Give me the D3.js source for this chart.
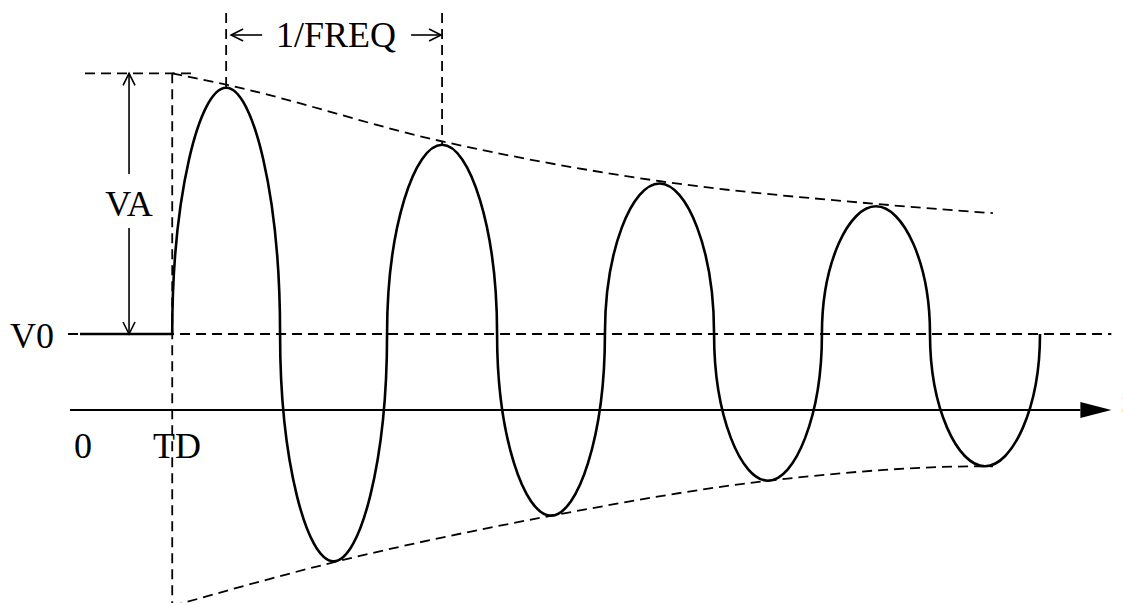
<!DOCTYPE html>
<html lang="en">
<head>
	<meta charset="utf-8">
	<title>SIN source waveform</title>
	<script src="https://cdn.jsdelivr.net/npm/d3@7/dist/d3.min.js"></script>
	<style type="text/css">
		body { margin: 0; background: white; }
		svg text {
			font-family: "Liberation Serif", "Times New Roman", serif;
			font-size: 36px;
			fill: black;
		}
		.dash {
			fill: none;
			stroke: black;
			stroke-width: 1.8;
			stroke-dasharray: 10,6;
		}
		.thin {
			fill: none;
			stroke: black;
			stroke-width: 1.6;
		}
	</style>
</head>
<body>
<script type="text/javascript">

// Source parameters (time in periods, 1/FREQ = 1; voltage in V0 units)
var TD = 0.425;
var V0 = 1;
var VA = 3.43;

// Zero crossings of the waveform (on the V0 line) and the extremum of each half cycle
var crossT = [0.425, 0.922, 1.415, 1.922, 2.419, 2.922, 3.419, 3.917, 4.424];
var extremaV = [4.24, -1.99, 3.49, -1.39, 2.98, -0.93, 2.68, -0.74];

// Dashed envelopes
var topEnvT = [0.425, 0.675, 1.675, 2.675, 3.675, 4.207];
var topEnvV = [4.43, 4.28, 3.53, 3.01, 2.71, 2.59];
var botEnvT = [0.425, 1.175, 2.175, 3.175, 4.175, 4.207];
var botEnvV = [-2.58, -2.0, -1.39, -0.93, -0.74, -0.74];

// Labels
var labelV0 = "V0", labelVA = "VA", labelZero = "0", labelTD = "TD", labelFreq = "1/FREQ", labelT = "t";

var width = 1123, height = 603;

var x = d3.scaleLinear().domain([0, 1]).range([80, 297]);
var y = d3.scaleLinear().domain([0, 1]).range([410, 334]);

var svg = d3.select("body")
		.append("svg")
		.attr("width", width)
		.attr("height", height);

// time axis with filled arrow
var axisEnd = x(4.61);
svg.append("line")
	.attr("x1", x(-0.046)).attr("x2", axisEnd)
	.attr("y1", y(0)).attr("y2", y(0))
	.attr("stroke", "black").attr("stroke-width", 1.8);
svg.append("path")
	.attr("d", "M" + axisEnd + "," + (y(0) - 8) + "L" + (axisEnd + 31) + "," + y(0) + "L" + axisEnd + "," + (y(0) + 8) + "Z")
	.attr("fill", "black");
svg.append("text")
	.attr("x", axisEnd + 41).attr("y", y(0) + 4)
	.attr("font-style", "italic")
	.text(labelT);

// V0 reference line
svg.append("line")
	.attr("class", "dash")
	.attr("x1", x(-0.055)).attr("x2", axisEnd + 31)
	.attr("y1", y(V0)).attr("y2", y(V0));

// TD marker
svg.append("line")
	.attr("class", "dash")
	.attr("x1", x(TD)).attr("x2", x(TD))
	.attr("y1", y(V0 + VA)).attr("y2", height);

// V0 + VA level
svg.append("line")
	.attr("class", "dash")
	.attr("x1", x(0.023)).attr("x2", x(0.516))
	.attr("y1", y(V0 + VA)).attr("y2", y(V0 + VA));

// envelopes
var envLine = d3.line()
	.x(function(d) { return x(d[0]); })
	.y(function(d) { return y(d[1]); })
	.curve(d3.curveMonotoneX);

svg.append("path")
	.attr("class", "dash")
	.attr("d", envLine(d3.zip(topEnvT, topEnvV)));
svg.append("path")
	.attr("class", "dash")
	.attr("d", envLine(d3.zip(botEnvT, botEnvV)));

// 1/FREQ markers at the first two peaks
var p1 = crossT[0] + (crossT[1] - crossT[0]) / 2;
var p2 = crossT[2] + (crossT[3] - crossT[2]) / 2;
svg.append("line").attr("class", "dash")
	.attr("x1", x(p1)).attr("x2", x(p1))
	.attr("y1", 13).attr("y2", y(extremaV[0]));
svg.append("line").attr("class", "dash")
	.attr("x1", x(p2)).attr("x2", x(p2))
	.attr("y1", 13).attr("y2", y(extremaV[2]));

function openHead(px, py, dx, dy) {
	// V shaped arrow head, tip at px,py pointing in direction dx,dy
	var len = 12, half = 6;
	var nx = -dy, ny = dx;
	return "M" + (px - dx * len + nx * half) + "," + (py - dy * len + ny * half) +
		"L" + px + "," + py +
		"L" + (px - dx * len - nx * half) + "," + (py - dy * len - ny * half);
}

var fy = 35;
svg.append("line").attr("class", "thin")
	.attr("x1", x(p1) + 5).attr("x2", x(p1) + 36).attr("y1", fy).attr("y2", fy);
svg.append("path").attr("class", "thin").attr("d", openHead(x(p1) + 5, fy, -1, 0));
svg.append("line").attr("class", "thin")
	.attr("x1", x(p2) - 31).attr("x2", x(p2) - 1).attr("y1", fy).attr("y2", fy);
svg.append("path").attr("class", "thin").attr("d", openHead(x(p2) - 1, fy, 1, 0));
svg.append("text")
	.attr("x", (x(p1) + x(p2)) / 2 + 2).attr("y", 47)
	.attr("text-anchor", "middle")
	.text(labelFreq);

// VA dimension arrow
var vaX = x(0.226);
svg.append("line").attr("class", "thin")
	.attr("x1", vaX).attr("x2", vaX).attr("y1", y(V0 + VA)).attr("y2", 174);
svg.append("line").attr("class", "thin")
	.attr("x1", vaX).attr("x2", vaX).attr("y1", 228).attr("y2", y(V0));
svg.append("path").attr("class", "thin").attr("d", openHead(vaX, y(V0 + VA), 0, -1));
svg.append("path").attr("class", "thin").attr("d", openHead(vaX, y(V0), 0, 1));
svg.append("text")
	.attr("x", vaX).attr("y", 216)
	.attr("text-anchor", "middle")
	.text(labelVA);

// waveform: flat at V0 until TD, then rounded lobes through the read extrema
// (vertical where it crosses V0, as drawn in the original)
var kv = 0.56, kw = 0.5;
var wave = d3.path();
wave.moveTo(x(0), y(V0));
wave.lineTo(x(crossT[0]), y(V0));
extremaV.forEach(function(v, i) {
	var xa = x(crossT[i]), xb = x(crossT[i + 1]);
	var xm = (xa + xb) / 2, w = xm - xa;
	var ya = y(V0), ym = y(v), h = ym - ya;
	wave.bezierCurveTo(xa, ya + kv * h, xm - kw * w, ym, xm, ym);
	wave.bezierCurveTo(xm + kw * w, ym, xb, ya + kv * h, xb, ya);
});
svg.append("path")
	.attr("d", wave.toString())
	.attr("fill", "none")
	.attr("stroke", "black")
	.attr("stroke-width", 2.6);

// axis labels
svg.append("text").attr("x", 10).attr("y", 348).text(labelV0);
svg.append("text").attr("x", 74).attr("y", 458).text(labelZero);
svg.append("text").attr("x", 153).attr("y", 458).text(labelTD);

</script>
</body>
</html>
